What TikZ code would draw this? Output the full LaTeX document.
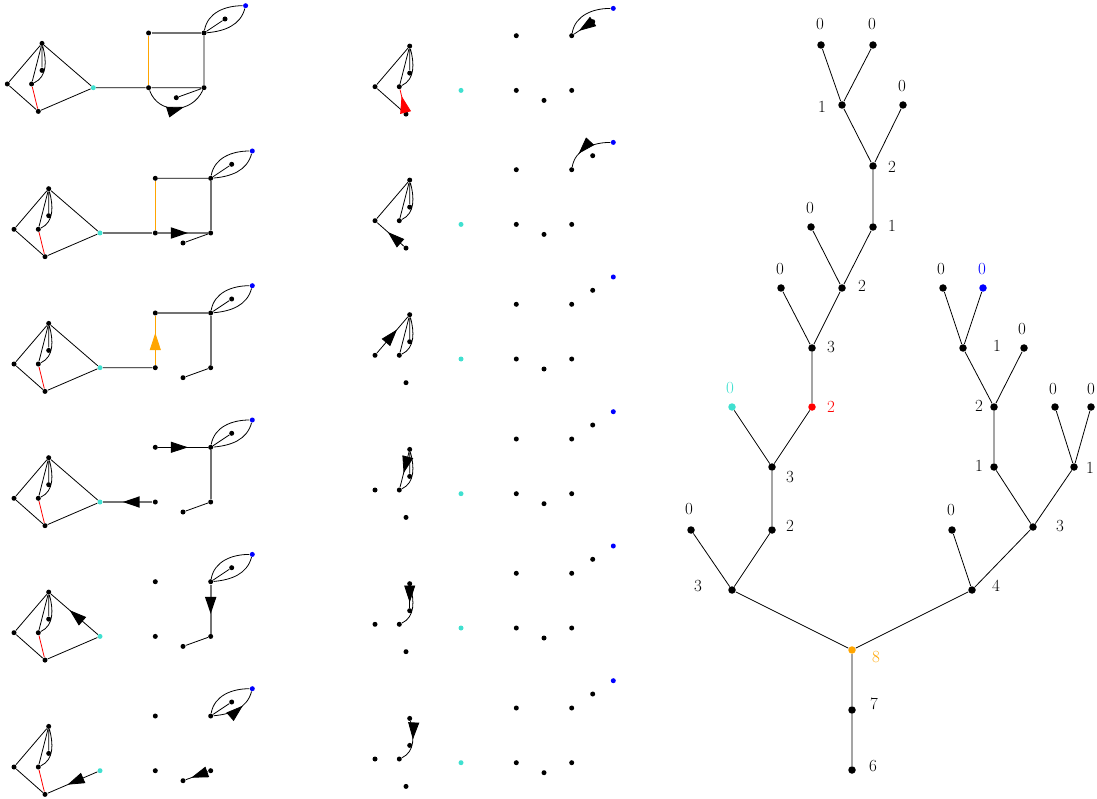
\documentclass[tikz,border=0pt]{standalone}
\usetikzlibrary{arrows.meta,decorations.markings}
\definecolor{turq}{RGB}{64,224,208}
\definecolor{orng}{RGB}{255,165,0}
\definecolor{gedgec}{RGB}{115,115,115}
\tikzset{
  dot/.style={circle,fill=black,draw=none,inner sep=0pt,minimum size=5pt},
  cdot/.style={dot,fill=turq},
  bdot/.style={dot,fill=blue},
  tdot/.style={circle,fill=black,draw=none,inner sep=0pt,minimum size=7.5pt},
  lbl/.style={inner sep=0pt,font=\fontsize{17}{19}\selectfont},
  gedge/.style={draw=gedgec,line width=1.8pt},
  oedge/.style={draw=orng},
  midarrow/.style={postaction={decorate},decoration={markings,mark=at position #1 with {\arrow[black]{Triangle[length=17pt,width=11pt]}}}},
  midarrow/.default=0.6,
  midarrowc/.style={postaction={decorate},decoration={markings,mark=at position #1 with {\arrow{Triangle[length=17pt,width=11pt]}}}},
}
\newcommand{\mkpanel}[3]{%
\begin{scope}[shift={(#2,#3)}]
\node[dot] (#1a) at (0,0) {};
\node[dot] (#1b) at (34.7,40.6) {};
\node[dot] (#1c) at (34.7,13.6) {};
\node[dot] (#1d) at (24.3,0) {};
\node[dot] (#1e) at (31,-27.4) {};
\node[cdot] (#1f) at (86,-3.7) {};
\node[dot] (#1g) at (141.3,-3.7) {};
\node[dot] (#1h) at (141.3,51) {};
\node[dot] (#1i) at (196.7,51) {};
\node[dot] (#1j) at (196.7,-3.7) {};
\node[dot] (#1k) at (169,-13.7) {};
\node[dot] (#1l) at (217.7,65) {};
\node[bdot] (#1m) at (238.3,78.3) {};
\end{scope}}
\newcommand{\kite}[1]{\draw (#1b)--(#1c) (#1b) to[out=-75,in=25] (#1d);}
\newcommand{\leftfull}[1]{\kite{#1}\draw (#1a)--(#1b) (#1a)--(#1e) (#1b)--(#1d) (#1b)--(#1f) (#1e)--(#1f); \draw[red] (#1d)--(#1e);}
\newcommand{\leafpart}[1]{\draw (#1i)--(#1l) (#1i) to[out=80,in=180] (#1m) (#1i) to[out=5,in=-105] (#1m);}
\begin{document}
\begin{tikzpicture}[x=1pt,y=1pt,line width=0.8pt]
\useasboundingbox (0,0) rectangle (1097,-799);
% panels
\mkpanel{pa}{7.3}{-84}
\mkpanel{pb}{14}{-229.3}
\mkpanel{pc}{14}{-364}
\mkpanel{pd}{14}{-498.3}
\mkpanel{pe}{14}{-632.7}
\mkpanel{pf}{14}{-767}
\mkpanel{pg}{375}{-86.7}
\mkpanel{ph}{375}{-220.7}
\mkpanel{pi}{375}{-355.3}
\mkpanel{pj}{375}{-490}
\mkpanel{pk}{375}{-624.3}
\mkpanel{pl}{375}{-759}
% panel 1
\leftfull{pa}
\draw (paf)--(pag) (pai)--(paj) (pag)--(paj) (paj)--(pak);
\draw[oedge] (pag)--(pah);
\draw[gedge] (pah)--(pai);
\draw[midarrow=0.62] (pag) to[out=-70,in=-115,looseness=1.25] (paj);
\leafpart{pa}
% panel 2
\leftfull{pb}
\draw[gedge] (pbf)--(pbg) (pbi)--(pbj);
\draw[gedge,midarrow=0.6] (pbg)--(pbj);
\draw[oedge] (pbg)--(pbh);
\draw (pbh)--(pbi) (pbj)--(pbk);
\leafpart{pb}
% panel 3
\leftfull{pc}
\draw (pcf)--(pcg) (pcj)--(pck);
\draw[oedge,midarrowc=0.65] (pcg)--(pch);
\draw[gedge] (pch)--(pci) (pci)--(pcj);
\leafpart{pc}
% panel 4
\leftfull{pd}
\draw[gedge,midarrow=0.6] (pdg)--(pdf);
\draw[midarrow=0.6] (pdh)--(pdi);
\draw[gedge] (pdi)--(pdj);
\draw (pdj)--(pdk);
\leafpart{pd}
% panel 5
\kite{pe}
\draw (pea)--(peb) (pea)--(pee) (peb)--(ped) (pee)--(pef);
\draw[red] (ped)--(pee);
\draw[midarrow=0.6] (pef)--(peb);
\draw[gedge,midarrow=0.6] (pei)--(pej);
\draw (pej)--(pek);
\leafpart{pe}
% panel 6
\kite{pf}
\draw (pfa)--(pfb) (pfa)--(pfe) (pfb)--(pfd);
\draw[red] (pfd)--(pfe);
\draw[midarrow=0.6] (pff)--(pfe);
\draw[midarrow=0.75] (pfj)--(pfk);
\draw (pfi)--(pfl) (pfi) to[out=80,in=180] (pfm);
\draw[midarrow=0.65] (pfi) to[out=5,in=-105] (pfm);
% panel 7
\kite{pg}
\draw (pga)--(pgb) (pga)--(pge) (pgb)--(pgd);
\draw[red,midarrowc=0.7] (pge)--(pgd);
\draw (pgi) to[out=80,in=180] (pgm);
\draw[midarrow=0.7] (pgl)--(pgi);
% panel 8
\kite{ph}
\draw (pha)--(phb) (phb)--(phd);
\draw[midarrow=0.6] (phe)--(pha);
\draw[midarrow=0.7] (phm) to[out=180,in=80] (phi);
% panel 9
\kite{pi}
\draw (pib)--(pid);
\draw[midarrow=0.65] (pia)--(pib);
% panel 10
\kite{pj}
\draw[midarrow=0.6] (pjb)--(pjd);
% panel 11
\draw (pkb) to[out=-75,in=25] (pkd);
\draw[midarrow=0.75] (pkb)--(pkc);
% panel 12
\draw[midarrow=0.45] (plb) to[out=-75,in=25] (pld);
% tree nodes
\node[tdot] (t6) at (852,-770) {};
\node[tdot] (t7) at (852,-710) {};
\node[tdot,fill=orng] (t8) at (852,-650) {};
\node[tdot] (tL3) at (732,-590) {};
\node[tdot] (tR4) at (972,-590) {};
\node[tdot] (ta0) at (691,-530) {};
\node[tdot] (ta2) at (772,-530) {};
\node[tdot] (ta3) at (772,-467) {};
\node[tdot,fill=turq] (tc0) at (732,-407) {};
\node[tdot,fill=red] (tr2) at (812,-407) {};
\node[tdot] (tb3) at (812,-348) {};
\node[tdot] (tb0) at (781,-288) {};
\node[tdot] (tb2) at (842,-288) {};
\node[tdot] (td0) at (811,-227) {};
\node[tdot] (td1) at (873,-227) {};
\node[tdot] (te2) at (873,-166) {};
\node[tdot] (te1) at (842,-105) {};
\node[tdot] (te0) at (903,-105) {};
\node[tdot] (tf0) at (821,-45) {};
\node[tdot] (tg0) at (873,-45) {};
\node[tdot] (tr0) at (952,-530) {};
\node[tdot] (th3) at (1033,-527) {};
\node[tdot] (ti1) at (994,-467) {};
\node[tdot] (tj1) at (1074,-467) {};
\node[tdot] (tk2) at (994,-407) {};
\node[tdot] (tl1) at (963,-348) {};
\node[tdot] (tl0) at (1024,-348) {};
\node[tdot] (tm0) at (943,-288) {};
\node[tdot,fill=blue] (tn0) at (983,-288) {};
\node[tdot] (to0) at (1055,-407) {};
\node[tdot] (tp0) at (1091,-407) {};
% tree edges
\draw (t6)--(t7) (t7)--(t8) (t8)--(tL3) (t8)--(tR4)
 (tL3)--(ta0) (tL3)--(ta2) (ta2)--(ta3) (ta3)--(tc0) (ta3)--(tr2)
 (tr2)--(tb3) (tb3)--(tb0) (tb3)--(tb2) (tb2)--(td0) (tb2)--(td1)
 (td1)--(te2) (te2)--(te1) (te2)--(te0) (te1)--(tf0) (te1)--(tg0)
 (tR4)--(tr0) (tR4)--(th3) (th3)--(ti1) (th3)--(tj1) (ti1)--(tk2)
 (tk2)--(tl1) (tk2)--(tl0) (tl1)--(tm0) (tl1)--(tn0) (tj1)--(to0) (tj1)--(tp0);
% tree labels
\node[lbl] (x6) at (873,-766) {6};
\node[lbl] (x7) at (874,-704) {7};
\node[lbl,text=orng] (x8) at (876,-657) {8};
\node[lbl] (xL3) at (698,-586) {3};
\node[lbl] (xR4) at (996,-586) {4};
\node[lbl] (xa0) at (689,-509) {0};
\node[lbl] (xa2) at (790,-526) {2};
\node[lbl] (xa3) at (790,-477) {3};
\node[lbl,text=turq] (xc0) at (730,-388) {0};
\node[lbl,text=red] (xr2) at (831,-407) {2};
\node[lbl] (xb3) at (831,-347) {3};
\node[lbl] (xb0) at (780,-269) {0};
\node[lbl] (xb2) at (862,-286) {2};
\node[lbl] (xd0) at (810,-208) {0};
\node[lbl] (xd1) at (892,-226) {1};
\node[lbl] (xe2) at (892,-167) {2};
\node[lbl] (xe1) at (822,-107) {1};
\node[lbl] (xe0) at (902,-86) {0};
\node[lbl] (xf0) at (820,-24) {0};
\node[lbl] (xg0) at (872,-24) {0};
\node[lbl] (xr0) at (951,-510) {0};
\node[lbl] (xh3) at (1060,-526) {3};
\node[lbl] (xi1) at (979,-466) {1};
\node[lbl] (xj1) at (1090,-468) {1};
\node[lbl] (xk2) at (979,-406) {2};
\node[lbl] (xl1) at (997,-346) {1};
\node[lbl] (xl0) at (1022,-329) {0};
\node[lbl] (xm0) at (941,-269) {0};
\node[lbl,text=blue] (xn0) at (982,-269) {0};
\node[lbl] (xo0) at (1053,-389) {0};
\node[lbl] (xp0) at (1091,-389) {0};
\end{tikzpicture}
\end{document}
